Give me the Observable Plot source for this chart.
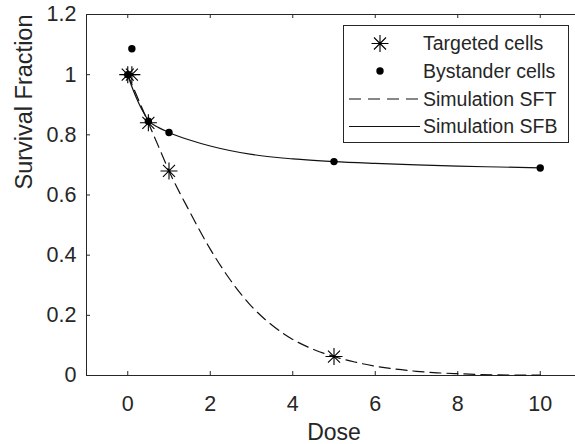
<!DOCTYPE html>
<html>
<head>
<meta charset="utf-8">
<script src="https://cdn.jsdelivr.net/npm/d3@7"></script>
<script src="https://cdn.jsdelivr.net/npm/@observablehq/plot@0.6"></script>
<style>
  html, body { margin: 0; padding: 0; background: #fff; overflow: hidden; }
  #wrap { position: relative; width: 575px; height: 444px; overflow: hidden; }
  #legend { position: absolute; left: 343px; top: 25px; }
</style>
</head>
<body>
<div id="wrap"><div id="chart"></div><div id="legend"></div></div>
<script>
// ---- data ----
const xTicks = [0, 2, 4, 6, 8, 10];
const xTickLabels = ["0", "2", "4", "6", "8", "10"];
const yTicks = [0, 0.2, 0.4, 0.6, 0.8, 1.0, 1.2];
const yTickLabels = ["0", "0.2", "0.4", "0.6", "0.8", "1", "1.2"];

const targetedDose = [0, 0.1, 0.5, 1, 5];
const targetedSF   = [1.0, 1.0, 0.84, 0.68, 0.063];

const bystanderDose = [0, 0.1, 0.5, 1, 5, 10];
const bystanderSF   = [1.0, 1.086, 0.845, 0.808, 0.711, 0.69];

const sftDose  = [0, 0.25, 0.5, 0.75, 1, 1.5, 2, 2.5, 3, 3.5, 4, 4.5, 5, 5.5, 6, 6.5, 7, 7.5, 8, 9, 10];
const sftValue = [1.0, 0.92, 0.84, 0.76, 0.68, 0.545, 0.42, 0.315, 0.23, 0.167, 0.12, 0.087, 0.063, 0.045, 0.031, 0.021, 0.014, 0.009, 0.006, 0.002, 0.001];

const sfbDose  = [0, 0.1, 0.2, 0.3, 0.4, 0.5, 0.75, 1, 1.5, 2, 3, 4, 5, 6, 7, 8, 9, 10];
const sfbValue = [1.0, 0.96, 0.926, 0.896, 0.87, 0.848, 0.824, 0.808, 0.783, 0.763, 0.735, 0.72, 0.711, 0.705, 0.70, 0.696, 0.693, 0.69];

const legendLabels = ["Targeted cells", "Bystander cells", "Simulation SFT", "Simulation SFB"];

// ---- tables ----
const targeted = targetedDose.map((d, i) => ({dose: d, sf: targetedSF[i]}));
const bystander = bystanderDose.map((d, i) => ({dose: d, sf: bystanderSF[i]}));
const sft = sftDose.map((d, i) => ({dose: d, sf: sftValue[i]}));
const sfb = sfbDose.map((d, i) => ({dose: d, sf: sfbValue[i]}));

const asterisk = {
  draw(ctx, size) {
    const r = Math.sqrt(size / Math.PI);
    const d = r * Math.SQRT1_2;
    ctx.moveTo(-r, 0); ctx.lineTo(r, 0);
    ctx.moveTo(0, -r); ctx.lineTo(0, r);
    ctx.moveTo(-d, -d); ctx.lineTo(d, d);
    ctx.moveTo(-d, d); ctx.lineTo(d, -d);
  }
};

const W = 575, H = 444;
const mL = 86, mT = 14, mB = 69, mR = -6;
const frameW = W - mL - mR, frameH = H - mT - mB;
const tickLen = 4;
const axisColor = "#262626";
const font = "'Liberation Sans', Arial, Helvetica, sans-serif";

const chart = Plot.plot({
  width: W,
  height: H,
  marginLeft: mL,
  marginTop: mT,
  marginBottom: mB,
  marginRight: mR,
  style: {fontFamily: font, color: axisColor, background: "white", overflow: "visible"},
  x: {domain: [-1, 11]},
  y: {domain: [0, 1.2]},
  marks: [
    Plot.axisX({ticks: xTicks, tickFormat: d => xTickLabels[xTicks.indexOf(d)], tickSize: 0, tickPadding: 20, fontSize: 21.5, label: null}),
    Plot.axisY({ticks: yTicks, tickFormat: d => yTickLabels[yTicks.indexOf(d)], tickSize: 0, tickPadding: 10, fontSize: 21.5, label: null}),
    Plot.tickX(xTicks, {x: d => d, insetTop: frameH - tickLen, stroke: axisColor}),
    Plot.tickX(xTicks, {x: d => d, insetBottom: frameH - tickLen, stroke: axisColor}),
    Plot.tickY(yTicks, {y: d => d, insetRight: frameW - tickLen, stroke: axisColor}),
    Plot.frame({stroke: axisColor, strokeWidth: 1}),
    Plot.line(sft, {x: "dose", y: "sf", curve: "monotone-x", stroke: "#111", strokeWidth: 1.2, strokeDasharray: "11,6"}),
    Plot.line(sfb, {x: "dose", y: "sf", curve: "monotone-x", stroke: "#111", strokeWidth: 1.2}),
    Plot.dot(targeted, {x: "dose", y: "sf", symbol: asterisk, r: 8.5, stroke: "black", fill: "none", strokeWidth: 1.1}),
    Plot.dot(bystander, {x: "dose", y: "sf", r: 3.7, fill: "black", stroke: "none"}),
    Plot.text(["Dose"], {frameAnchor: "bottom", dy: 64, lineAnchor: "bottom", fontSize: 23, fill: axisColor}),
    Plot.text(["Survival Fraction"], {frameAnchor: "left", dx: -54.5, dy: -5.5, rotate: -90, lineAnchor: "bottom", fontSize: 23.5, fill: axisColor})
  ]
});
document.getElementById("chart").appendChild(chart);

// ---- legend ----
const lw = 226, lh = 118;
const leg = d3.select("#legend").append("svg")
  .attr("width", lw).attr("height", lh)
  .style("display", "block")
  .style("font-family", font);
leg.append("rect").attr("x", 0.5).attr("y", 0.5).attr("width", lw - 1).attr("height", lh - 1)
  .attr("fill", "white").attr("stroke", axisColor).attr("stroke-width", 1);
const rowY = [18.5, 46, 74, 101.5];
const sym = d3.path(); asterisk.draw(sym, Math.PI * 8.5 * 8.5);
leg.append("path").attr("d", sym.toString()).attr("transform", `translate(37,${rowY[0]})`)
  .attr("stroke", "black").attr("fill", "none").attr("stroke-width", 1.1);
leg.append("circle").attr("cx", 37).attr("cy", rowY[1]).attr("r", 3.7).attr("fill", "black");
leg.append("line").attr("x1", 6).attr("x2", 77).attr("y1", rowY[2]).attr("y2", rowY[2])
  .attr("stroke", "#111").attr("stroke-width", 1.2).attr("stroke-dasharray", "12,7");
leg.append("line").attr("x1", 6).attr("x2", 77).attr("y1", rowY[3]).attr("y2", rowY[3])
  .attr("stroke", "#111").attr("stroke-width", 1.2);
leg.selectAll("text.lab").data(legendLabels).join("text")
  .attr("class", "lab")
  .attr("x", 80).attr("y", (d, i) => rowY[i]).attr("dy", "0.35em")
  .attr("font-size", 19.5).attr("fill", axisColor)
  .text(d => d);
</script>
</body>
</html>
